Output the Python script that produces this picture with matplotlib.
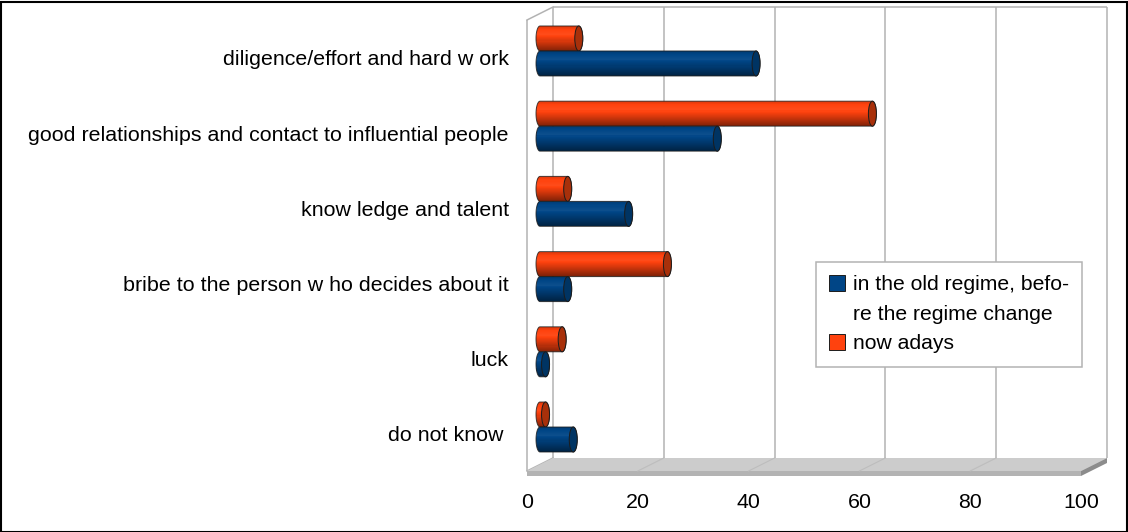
import numpy as np
import matplotlib
matplotlib.use("Agg")
import matplotlib.pyplot as plt
import matplotlib.colors as mcolors
from matplotlib.patches import Rectangle, Polygon, Ellipse, PathPatch, Patch
from matplotlib.path import Path

plt.rcParams['font.family'] = ['Liberation Sans', 'DejaVu Sans']

# ---------------- data ----------------
categories = ["diligence/effort and hard w ork",
              "good relationships and contact to influential people",
              "know ledge and talent",
              "bribe to the person w ho decides about it",
              "luck",
              "do not know "]
old_regime = [39, 32, 16, 5, 1, 6]
nowadays = [7, 60, 5, 23, 4, 1]
series_labels = ["in the old regime, befo-", "re the regime change", "now adays"]
series_colors = ["#004586", "#ff420e"]
xticks = [0, 20, 40, 60, 80, 100]

# ---------------- figure ----------------
W, H = 1128, 532
fig = plt.figure(figsize=(W / 100, H / 100), dpi=100)
FS = 15.4
LFS = 15.2

def rect_px(x0, ytop, x1, ybot):
    return [x0 / W, 1 - ybot / H, (x1 - x0) / W, (ybot - ytop) / H]

ax = fig.add_axes(rect_px(527, 20, 1081, 471))
ax.set_xlim(0, 100)
YB, YT = 5.492, -0.505
ax.set_ylim(YB, YT)
for s in ax.spines.values():
    s.set_visible(False)
ax.patch.set_visible(False)

ppx = 554 / 100.0            # pixels per x unit
ppy = 451 / (YB - YT)        # pixels per y unit
DX, DY = 26 / ppx, -13 / ppy  # depth vector (back wall)
BX0, BDY = 13 / ppx, -7 / ppy  # bar depth position
bar_h = 25 / ppy
cap_a = 4.0 / ppx
grid_c = "#b3b3b3"

# back wall + grid
ax.vlines([t + DX for t in xticks], YB + DY, YT + DY, colors=grid_c, lw=1.1, clip_on=False, zorder=1)
ax.hlines(YT + DY, DX, 100 + DX, colors=grid_c, lw=1.1, clip_on=False, zorder=1)
# left wall
ax.vlines(0, YB, YT, colors=grid_c, lw=1.1, clip_on=False, zorder=1)
ax.plot([0, DX], [YT, YT + DY], color=grid_c, lw=1.1, clip_on=False, zorder=1)
ax.plot([0, DX], [YB, YB + DY], color=grid_c, lw=1.1, clip_on=False, zorder=1)

# floor
thick = 5 / ppy
ax.add_patch(Polygon([(0, YB), (100, YB), (100 + DX, YB + DY), (DX, YB + DY)],
                     closed=True, fc="#cccccc", ec="none", clip_on=False, zorder=1.5))
ax.add_patch(Polygon([(0, YB), (100, YB), (100, YB + thick), (0, YB + thick)],
                     closed=True, fc="#b3b3b3", ec="none", clip_on=False, zorder=1.5))
ax.add_patch(Polygon([(100, YB), (100 + DX, YB + DY), (100 + DX, YB + DY + thick), (100, YB + thick)],
                     closed=True, fc="#8c8c8c", ec="none", clip_on=False, zorder=1.5))
for t in xticks[1:-1]:
    ax.plot([t, t + DX], [YB, YB + DY], color="#bdbdbd", lw=0.8, clip_on=False, zorder=1.6)


def shade(color, t):
    # t: 0 top -> 1 bottom of cylinder
    rgb = np.array(mcolors.to_rgb(color))
    pts = [0.0, 0.15, 0.35, 0.6, 1.0]
    fac = [0.85, 1.0, 1.05, 0.85, 0.5]
    f = np.interp(t, pts, fac)
    if f > 1:
        rgb = rgb + (1 - rgb) * (f - 1)
    else:
        rgb = rgb * f
    return np.clip(rgb, 0, 1)


def capsule(x0, x1, yc, a, hh):
    th1 = np.linspace(-np.pi / 2, -3 * np.pi / 2, 30)
    left = np.column_stack([x0 + a * np.cos(th1), yc + hh * np.sin(th1)])
    th2 = np.linspace(np.pi / 2, -np.pi / 2, 30)
    right = np.column_stack([x1 + a * np.cos(th2), yc + hh * np.sin(th2)])
    verts = np.vstack([left, right, left[:1]])
    codes = [Path.MOVETO] + [Path.LINETO] * (len(verts) - 2) + [Path.CLOSEPOLY]
    return Path(verts, codes)


def cylinder_bar(yc, value, color, cap_color, z):
    hh = bar_h / 2
    clip = PathPatch(capsule(BX0, BX0 + value, yc, cap_a, hh), fc="none",
                     ec="#1c1c1c", lw=0.7, alpha=0.8, zorder=z + 0.2)
    ax.add_patch(clip)
    n = 24
    for k in range(n):
        t = (k + 0.5) / n
        ys = yc - hh + t * bar_h
        bars = ax.barh(ys, value + 2 * cap_a, height=bar_h / n * 1.15,
                       left=BX0 - cap_a, color=shade(color, t), lw=0, zorder=z)
        for r in bars:
            r.set_clip_path(clip)
    ax.add_patch(Ellipse((BX0 + value, yc), 2 * cap_a, bar_h, fc=cap_color,
                         ec="#1c1c1c", lw=0.7, zorder=z + 0.3))


cap_colors = ["#003463", "#a8300a"]
for i, (vo, vn) in enumerate(zip(old_regime, nowadays)):
    c = i + BDY
    cylinder_bar(c - bar_h / 2, vn, series_colors[1], cap_colors[1], 3 + i * 0.01)
    cylinder_bar(c + bar_h / 2, vo, series_colors[0], cap_colors[0], 4 + i * 0.01)

# axes ticks
ax.set_xticks(xticks)
ax.set_xticklabels([str(t) for t in xticks])
ax.set_yticks(range(len(categories)))
ax.set_yticklabels(categories)
ax.tick_params(axis='x', length=0, pad=16, labelsize=FS)
ax.tick_params(axis='y', length=0, pad=13, labelsize=FS)

# legend (label of first series wraps over two lines, as in the original)
handles = [Patch(fc=series_colors[0], ec="#1c1c1c", lw=0.7),
           Patch(fc="none", ec="none"),
           Patch(fc=series_colors[1], ec="#1c1c1c", lw=0.7)]
leg = ax.legend(handles, series_labels, loc="upper left",
                bbox_to_anchor=(816 / W, 1 - 262 / H), bbox_transform=fig.transFigure,
                frameon=True, fancybox=False, edgecolor=grid_c, framealpha=1,
                fontsize=LFS, handlelength=0.75, handleheight=0.75,
                handletextpad=0.38, borderpad=0.62, labelspacing=0.5, borderaxespad=0)
leg.get_frame().set_linewidth(1.1)
leg.set_zorder(10)

# outer border
fig.add_artist(Rectangle((0.5 / W, 0.5 / H), 1 - 2 / W, 1 - 2 / H, transform=fig.transFigure,
                         fill=False, ec="black", lw=1.5))

fig.savefig("out.png", dpi=100)
